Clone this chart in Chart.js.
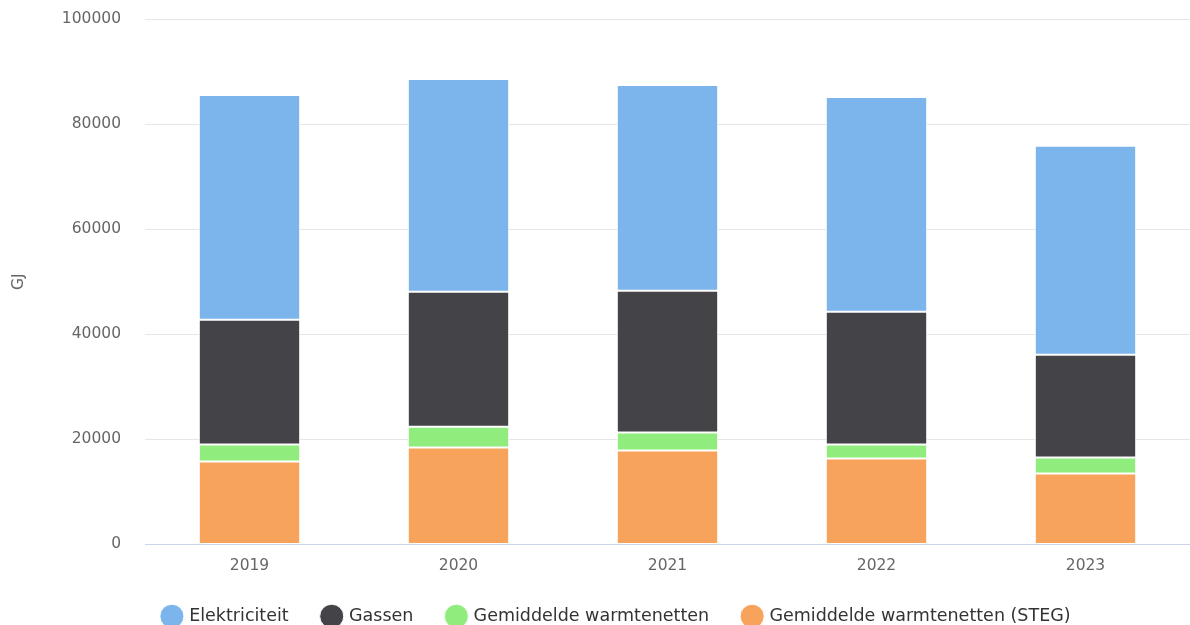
<!DOCTYPE html>
<html>
<head>
<meta charset="utf-8">
<script src="https://cdn.jsdelivr.net/npm/chart.js@4/dist/chart.umd.min.js"></script>
<style>
html,body{margin:0;padding:0;background:#fff;}
#wrap{width:1190px;height:625px;position:relative;}
</style>
</head>
<body>
<div id="wrap"><canvas id="c" width="1190" height="625"></canvas></div>
<script>
const years = ["2019", "2020", "2021", "2022", "2023"];
const steg = [15780, 18440, 17870, 16350, 13500];
const warmtenetten = [3220, 3960, 3430, 2650, 3040];
const gassen = [23780, 25700, 27000, 25300, 19560];
const elektriciteit = [42770, 40500, 39150, 40870, 39760];
const yTicks = [0, 20000, 40000, 60000, 80000, 100000];

const font = 'DejaVu Sans';
Chart.defaults.font.family = font;

const legendShift = {
  id: 'legendShift',
  afterLayout(chart) {
    const l = chart.legend;
    if (l) { l.left += 22; l.right += 22; l.top -= 14; l.bottom -= 14; }
  }
};

new Chart(document.getElementById('c'), {
  type: 'bar',
  data: {
    labels: years,
    datasets: [
      {label: 'Gemiddelde warmtenetten (STEG)', data: steg, backgroundColor: '#f7a35c'},
      {label: 'Gemiddelde warmtenetten', data: warmtenetten, backgroundColor: '#90ed7d'},
      {label: 'Gassen', data: gassen, backgroundColor: '#434348'},
      {label: 'Elektriciteit', data: elektriciteit, backgroundColor: '#7cb5ec'}
    ].map(d => Object.assign(d, {borderColor: '#ffffff', borderWidth: 1, borderSkipped: false, barPercentage: 0.485, categoryPercentage: 1}))
  },
  plugins: [legendShift],
  options: {
    responsive: false,
    animation: false,
    layout: {padding: {top: 19, right: 0, left: 0, bottom: -24}},
    plugins: {
      tooltip: {enabled: false},
      legend: {
        position: 'bottom',
        reverse: true,
        labels: {
          usePointStyle: true,
          pointStyle: 'circle',
          boxWidth: 17,
          boxHeight: 17,
          padding: 34.5,
          color: '#333333',
          font: {family: font, size: 17.5}
        }
      }
    },
    scales: {
      x: {
        stacked: true,
        grid: {display: false, drawTicks: false},
        border: {display: true, color: '#ccd6eb', width: 1},
        ticks: {color: '#666666', font: {family: font, size: 15.5}, padding: 12}
      },
      y: {
        stacked: true,
        min: 0,
        max: 100000,
        afterBuildTicks: (s) => { s.ticks = yTicks.map(v => ({value: v})); },
        afterFit: (s) => { s.width = 145; s.paddingTop = 0; s.paddingBottom = 0; },
        grid: {color: '#e6e6e6', drawTicks: false},
        border: {display: false},
        ticks: {color: '#666666', font: {family: font, size: 15.5}, padding: 24, callback: (v) => String(v)},
        title: {display: true, text: 'GJ', color: '#666666', font: {family: font, size: 15.5}, padding: {top: 10, bottom: 0}}
      }
    }
  }
});
</script>
</body>
</html>
